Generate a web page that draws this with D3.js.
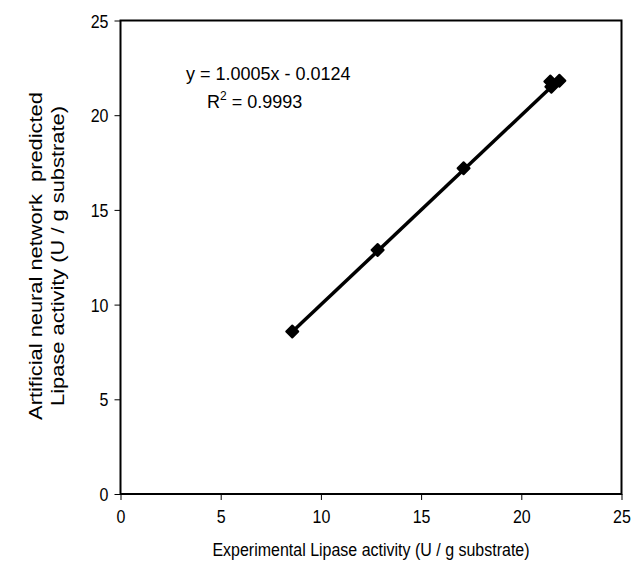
<!DOCTYPE html>
<html>
<head>
<meta charset="utf-8">
<script src="https://cdn.jsdelivr.net/npm/d3@7/dist/d3.min.js"></script>
<style>
  html, body { margin: 0; padding: 0; background: #fff; }
  text { font-family: "Liberation Sans", Arial, sans-serif; fill: #000; }
</style>
</head>
<body>
<svg id="chart" width="644" height="564"></svg>
<script>
// Data
const experimental = [8.57, 12.83, 17.12, 21.45, 21.5, 21.9];
const predicted    = [8.58, 12.88, 17.2, 21.78, 21.5, 21.82];
const xTicks = [0, 5, 10, 15, 20, 25];
const yTicks = [0, 5, 10, 15, 20, 25];
const slope = 1.0005, intercept = -0.0124;
const eqText = "y = 1.0005x - 0.0124";
const r2Value = "0.9993";
const xTitle = "Experimental Lipase activity (U / g substrate)";
const yTitleLines = ["Artificial neural network  predicted", "Lipase activity (U / g substrate)"];

const svg = d3.select("#chart");
const L = 120.5, R = 621.5, T = 20.5, B = 494;
const x = d3.scaleLinear().domain([0, 25]).range([L, R]);
const y = d3.scaleLinear().domain([0, 25]).range([B, T]);

// Frame
svg.append("rect").attr("x", L).attr("y", T).attr("width", R - L).attr("height", B - T)
  .attr("fill", "none").attr("stroke", "#000").attr("stroke-width", 2);

// Axes
const xAxis = d3.axisBottom(x).tickValues(xTicks).tickSize(6).tickSizeOuter(0);
const gx = svg.append("g").attr("transform", `translate(0,${B})`).call(xAxis);
gx.select(".domain").remove();
gx.selectAll("text").attr("y", 0).attr("dy", 0)
  .attr("transform", "translate(0,29) scale(1,1.12)")
  .attr("font-size", 16).attr("font-family", "Liberation Sans, Arial, sans-serif").attr("fill", "#000");
gx.selectAll("line").attr("stroke", "#000");

const yAxis = d3.axisLeft(y).tickValues(yTicks).tickSize(6).tickSizeOuter(0).tickPadding(6);
const gy = svg.append("g").attr("transform", `translate(${L},0)`).call(yAxis);
gy.select(".domain").remove();
gy.selectAll("text").attr("dy", 0)
  .attr("transform", "translate(0,6.5) scale(1,1.12)")
  .attr("font-size", 16).attr("font-family", "Liberation Sans, Arial, sans-serif").attr("fill", "#000");
gy.selectAll("line").attr("stroke", "#000");

// Trend line
const xmin = d3.min(experimental), xmax = d3.max(experimental);
svg.append("line")
  .attr("x1", x(xmin)).attr("y1", y(slope * xmin + intercept))
  .attr("x2", x(xmax)).attr("y2", y(slope * xmax + intercept))
  .attr("stroke", "#000").attr("stroke-width", 3.5);

// Markers (diamonds = squares rotated 45deg)
svg.append("g").selectAll("path").data(experimental.map((v, i) => [v, predicted[i]]))
  .join("path")
  .attr("transform", d => `translate(${x(d[0])},${y(d[1])}) rotate(45)`)
  .attr("d", d3.symbol().type(d3.symbolSquare).size(72))
  .attr("fill", "#000").attr("stroke", "#000").attr("stroke-width", 2).attr("stroke-linejoin", "round");

// Equation
svg.append("text").attr("x", 186).attr("y", 80).attr("font-size", 18).text(eqText);
const r2 = svg.append("text").attr("x", 207).attr("y", 108).attr("font-size", 18);
r2.append("tspan").text("R");
r2.append("tspan").attr("dy", -8).attr("font-size", 12).text("2");
r2.append("tspan").attr("dy", 8).text(" = " + r2Value);

// Axis titles
svg.append("text").attr("transform", `translate(${(L + R) / 2},556) scale(1,1.12)`)
  .attr("text-anchor", "middle").attr("font-size", 16).text(xTitle);
const yPos = [42, 64];
yTitleLines.forEach((t, i) => {
  svg.append("text")
    .attr("transform", `translate(${yPos[i]},256) rotate(-90) scale(1.15,1)`)
    .attr("text-anchor", "middle").attr("font-size", 19)
    .style("white-space", "pre").text(t);
});
</script>
</body>
</html>
